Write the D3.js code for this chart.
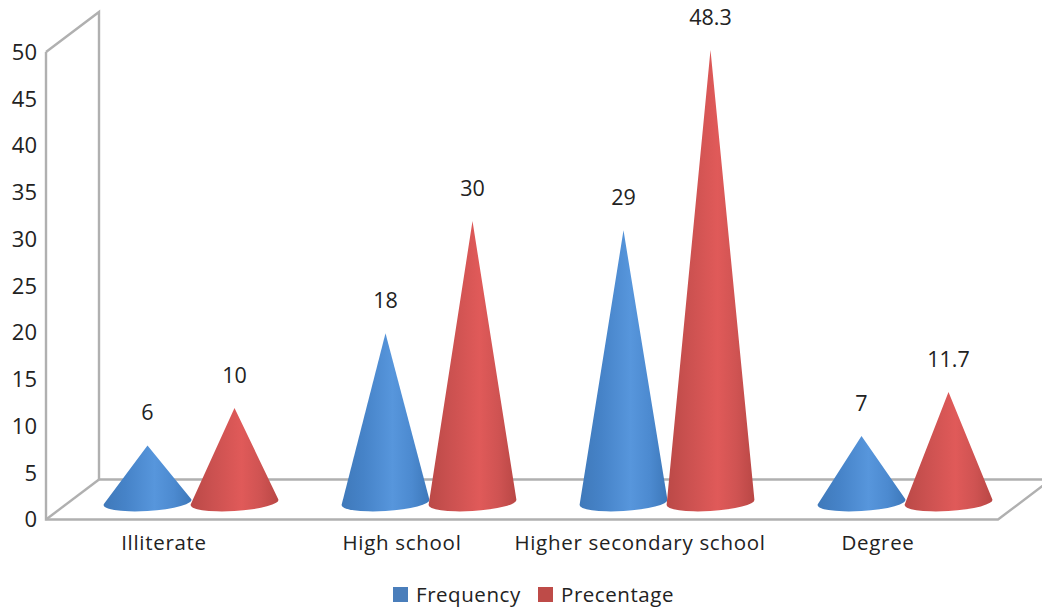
<!DOCTYPE html>
<html>
<head>
<meta charset="utf-8">
<script src="https://cdn.jsdelivr.net/npm/d3@7/dist/d3.min.js"></script>
<style>
  html, body { margin: 0; padding: 0; background: #fff; }
  svg { display: block; }
  text { font-family: "Open Sans", sans-serif; fill: #222; }
</style>
</head>
<body>
<div id="chart"></div>
<script>
// Education level cone chart
const categories = ["Illiterate", "High school", "Higher secondary school", "Degree"];
const seriesNames = ["Frequency", "Precentage"];
const frequency = [6, 18, 29, 7];
const percentage = [10, 30, 48.3, 11.7];
const yTicks = [0, 5, 10, 15, 20, 25, 30, 35, 40, 45, 50];

const width = 1042, height = 611;
const depthX = 53, depthY = -40;      // oblique offset of the back wall
const coneShiftX = 26, coneShiftY = -17; // cones stand mid-way across the floor
const coneRy = 8.5, coneTilt = -3.5;  // elliptical base, slightly rotated

const svg = d3.select("#chart").append("svg").attr("width", width).attr("height", height);

const y = d3.scaleLinear().domain([0, 50]).range([519.5, 52]);
const x0 = d3.scaleBand().domain(categories).range([46, 998]);
const x1 = d3.scaleBand().domain(seriesNames).range([-87, 87]);

const palette = {
  Frequency: { swatch: "#4a7ebb", stops: ["#3f79ba", "#4683c8", "#5796dc", "#4c8ad0", "#3d78ba"] },
  Precentage: { swatch: "#be4b48", stops: ["#bb4947", "#cb5150", "#e05a59", "#cf5352", "#b94745"] }
};

// Horizontal shading that gives each cone its rounded look
const defs = svg.append("defs");
seriesNames.forEach((name, i) => {
  const g = defs.append("linearGradient").attr("id", "shade" + i)
    .attr("x1", 0).attr("x2", 1).attr("y1", 0).attr("y2", 0);
  [0, 0.25, 0.58, 0.8, 1].forEach((o, k) =>
    g.append("stop").attr("offset", o).attr("stop-color", palette[name].stops[k]));
});

// Chart frame: side wall, back wall and floor
const x = x0.range(), yb = y(0), yt = y(50);
const frame = d3.line();
const frameGroup = svg.append("g").attr("fill", "none").attr("stroke", "#b0b0b0").attr("stroke-width", 2.4);
[
  [[x[0], yt], [x[0], yb], [x[1], yb], [x[1] + depthX, yb + depthY]],
  [[x[0], yt], [x[0] + depthX, yt + depthY], [x[0] + depthX, yb + depthY], [width + 10, yb + depthY]],
  [[x[0], yb], [x[0] + depthX, yb + depthY]]
].forEach(pts => frameGroup.append("path").attr("d", frame(pts)));

// Value axis labels
svg.append("g").selectAll("text").data(yTicks).join("text")
  .attr("x", 37).attr("y", d => y(d)).attr("dy", "0.36em")
  .attr("text-anchor", "end").attr("font-size", 22)
  .text(d => d);

// Category labels
svg.append("g").selectAll("text").data(categories).join("text")
  .attr("x", d => x0(d) + x0.bandwidth() / 2 - 1).attr("y", 543).attr("dy", "0.36em")
  .attr("text-anchor", "middle").attr("font-size", 20.5)
  .attr("letter-spacing", 0.7)
  .text(d => d);

// Cone outline: tangents from the tip to a rotated elliptical base
function conePath(cx, cy, tipY, rx, ry, deg) {
  const t = deg * Math.PI / 180, c = Math.cos(t), s = Math.sin(t);
  const dx = 0, dy = tipY - cy;
  const ux = (dx * c + dy * s) / rx, uy = (-dx * s + dy * c) / ry;
  const d2 = ux * ux + uy * uy, root = Math.sqrt(d2 - 1);
  const toPage = (a, b) => [cx + a * rx * c - b * ry * s, cy + a * rx * s + b * ry * c];
  const p1 = toPage((ux + uy * root) / d2, (uy - ux * root) / d2);
  const p2 = toPage((ux - uy * root) / d2, (uy + ux * root) / d2);
  const left = p1[0] < p2[0] ? p1 : p2, right = p1[0] < p2[0] ? p2 : p1;
  return `M${cx},${tipY}L${right[0]},${right[1]}A${rx},${ry} ${deg} 1 1 ${left[0]},${left[1]}Z`;
}

const rows = seriesNames.map((name, i) => ({
  name, i, values: i === 0 ? frequency : percentage
}));

// Cones, one series at a time so the red ones sit in front
rows.forEach(row => {
  const cone = d => x0(d.cat) + x0.bandwidth() / 2 + coneShiftX + x1(row.name) + x1.bandwidth() / 2;
  const data = categories.map((cat, k) => ({ cat, v: row.values[k] }));
  const g = svg.append("g");
  g.selectAll("path").data(data).join("path")
    .attr("d", d => conePath(cone(d), y(0) + coneShiftY, y(d.v) + coneShiftY - 1, x1.bandwidth() / 2 + 0.5, coneRy, coneTilt))
    .attr("fill", `url(#shade${row.i})`);
  g.selectAll("text").data(data).join("text")
    .attr("x", d => cone(d)).attr("y", d => y(d.v) + coneShiftY - 34).attr("dy", "0.36em")
    .attr("text-anchor", "middle").attr("font-size", 21.5)
    .text(d => d.v);
});

// Legend
const legendSwatch = d3.scalePoint().domain(seriesNames).range([393, 538]);
const legend = svg.append("g").selectAll("g").data(seriesNames).join("g")
  .attr("transform", d => `translate(${legendSwatch(d)},587)`);
legend.append("rect").attr("width", 15).attr("height", 15).attr("fill", d => palette[d].swatch);
legend.append("text").attr("x", 23).attr("y", 8).attr("dy", "0.36em")
  .attr("font-size", 20.5).attr("letter-spacing", 0.55).text(d => d);
</script>
</body>
</html>
